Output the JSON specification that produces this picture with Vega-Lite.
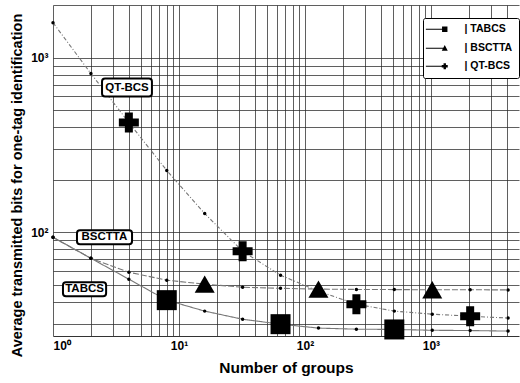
{
  "$schema": "https://vega.github.io/schema/vega-lite/v6.json",
  "width": 466,
  "height": 331,
  "autosize": {"type": "none"},
  "padding": {"left": 53, "top": 5, "right": 1, "bottom": 47},
  "background": "white",
  "config": {
    "view": {"stroke": null},
    "font": "Liberation Sans",
    "axis": {
      "labelFont": "Liberation Sans",
      "titleFont": "Liberation Sans",
      "labelFontWeight": "bold",
      "titleFontWeight": "bold",
      "labelColor": "black",
      "titleColor": "black",
      "gridColor": "#2a2a2a",
      "gridOpacity": 0.75,
      "gridWidth": 1,
      "domainColor": "#333333",
      "ticks": false,
      "labelOverlap": false
    },
    "legend": {"labelFont": "Liberation Sans"}
  },
  "resolve": {"scale": {"shape": "independent"}},
  "datasets": {
    "curves": [
      {"series": "TABCS", "x": 1, "y": 93.6},
      {"series": "TABCS", "x": 2, "y": 71.0},
      {"series": "TABCS", "x": 4, "y": 53.9},
      {"series": "TABCS", "x": 8, "y": 40.9},
      {"series": "TABCS", "x": 16, "y": 35.4},
      {"series": "TABCS", "x": 32, "y": 31.8},
      {"series": "TABCS", "x": 64, "y": 29.8},
      {"series": "TABCS", "x": 128, "y": 28.3},
      {"series": "TABCS", "x": 256, "y": 27.9},
      {"series": "TABCS", "x": 512, "y": 27.8},
      {"series": "TABCS", "x": 1024, "y": 27.5},
      {"series": "TABCS", "x": 2048, "y": 27.4},
      {"series": "TABCS", "x": 4096, "y": 27.2},
      {"series": "BSCTTA", "x": 1, "y": 93.6},
      {"series": "BSCTTA", "x": 2, "y": 71.0},
      {"series": "BSCTTA", "x": 4, "y": 59.1},
      {"series": "BSCTTA", "x": 8, "y": 53.2},
      {"series": "BSCTTA", "x": 16, "y": 50.5},
      {"series": "BSCTTA", "x": 32, "y": 48.5},
      {"series": "BSCTTA", "x": 64, "y": 47.8},
      {"series": "BSCTTA", "x": 128, "y": 47.3},
      {"series": "BSCTTA", "x": 256, "y": 47.1},
      {"series": "BSCTTA", "x": 512, "y": 47.0},
      {"series": "BSCTTA", "x": 1024, "y": 46.9},
      {"series": "BSCTTA", "x": 2048, "y": 46.9},
      {"series": "BSCTTA", "x": 4096, "y": 46.8},
      {"series": "QT-BCS", "x": 1, "y": 1585},
      {"series": "QT-BCS", "x": 2, "y": 810},
      {"series": "QT-BCS", "x": 4, "y": 425},
      {"series": "QT-BCS", "x": 8, "y": 226},
      {"series": "QT-BCS", "x": 16, "y": 128},
      {"series": "QT-BCS", "x": 32, "y": 77.9},
      {"series": "QT-BCS", "x": 64, "y": 56.8},
      {"series": "QT-BCS", "x": 128, "y": 46.0},
      {"series": "QT-BCS", "x": 256, "y": 38.8},
      {"series": "QT-BCS", "x": 512, "y": 35.4},
      {"series": "QT-BCS", "x": 1024, "y": 34.0},
      {"series": "QT-BCS", "x": 2048, "y": 33.1},
      {"series": "QT-BCS", "x": 4096, "y": 32.3}
    ],
    "notes": [
      {"label": "QT-BCS", "x1": 2.45, "x2": 6.1, "y1": 599, "y2": 759, "xc": 3.87, "yc": 674},
      {"label": "BSCTTA", "x1": 1.55, "x2": 4.24, "y1": 85.4, "y2": 102.7, "xc": 2.56, "yc": 93.6},
      {"label": "TABCS", "x1": 1.2, "x2": 2.64, "y1": 43.1, "y2": 51.8, "xc": 1.78, "yc": 47.2}
    ]
  },
  "layer": [
    {
      "data": {"name": "curves"},
      "mark": {"type": "line", "strokeWidth": 1.1, "color": "#777777"},
      "encoding": {
        "x": {
          "field": "x", "type": "quantitative",
          "scale": {"type": "log", "domain": [1, 5000], "nice": false},
          "axis": {
            "title": "Number of groups",
            "titleFontSize": 15.5,
            "titlePadding": 9,
            "labelFontSize": 12,
            "labelPadding": 4,
            "labelFlush": true,
            "values": [1,2,3,4,5,6,7,8,9,10,20,30,40,50,60,70,80,90,100,200,300,400,500,600,700,800,900,1000,2000,3000,4000],
            "labelExpr": "datum.value == 1 ? '10⁰' : datum.value == 10 ? '10¹' : datum.value == 100 ? '10²' : datum.value == 1000 ? '10³' : ''"
          }
        },
        "y": {
          "field": "y", "type": "quantitative",
          "scale": {"type": "log", "domain": [25.5, 2000], "nice": false},
          "axis": {
            "title": "Average transmitted bits for one-tag identification",
            "titleFontSize": 14.5,
            "titlePadding": 6,
            "titleY": 180,
            "labelFontSize": 12,
            "labelPadding": 5,
            "domain": false,
            "values": [30,40,50,60,70,80,90,100,200,300,400,500,600,700,800,900,1000,2000],
            "labelExpr": "datum.value == 100 ? '10²' : datum.value == 1000 ? '10³' : ''"
          }
        },
        "detail": {"field": "series"},
        "strokeDash": {
          "field": "series", "type": "nominal",
          "scale": {"domain": ["QT-BCS", "BSCTTA", "TABCS"], "range": [[4, 2, 1, 2], [6, 2], [1, 0]]},
          "legend": null
        }
      }
    },
    {
      "data": {"name": "curves"},
      "mark": {"type": "point", "filled": true, "size": 12, "color": "black", "opacity": 1},
      "encoding": {
        "x": {"field": "x", "type": "quantitative"},
        "y": {"field": "y", "type": "quantitative"}
      }
    },
    {
      "data": {"name": "curves"},
      "transform": [
        {"filter": "(datum.series == 'TABCS' && (datum.x == 8 || datum.x == 64 || datum.x == 512)) || (datum.series == 'BSCTTA' && (datum.x == 16 || datum.x == 128 || datum.x == 1024)) || (datum.series == 'QT-BCS' && (datum.x == 4 || datum.x == 32 || datum.x == 256 || datum.x == 2048))"}
      ],
      "mark": {"type": "point", "filled": true, "size": 400, "color": "black", "opacity": 1},
      "encoding": {
        "x": {"field": "x", "type": "quantitative"},
        "y": {"field": "y", "type": "quantitative"},
        "shape": {
          "field": "series", "type": "nominal",
          "scale": {"domain": ["QT-BCS", "BSCTTA", "TABCS"], "range": ["cross", "triangle-up", "square"]},
          "legend": null
        }
      }
    },
    {
      "data": {"name": "curves"},
      "mark": {"type": "point", "fill": "black", "stroke": "black", "strokeWidth": 1, "size": 36, "opacity": 0},
      "encoding": {
        "x": {"field": "x", "type": "quantitative"},
        "y": {"field": "y", "type": "quantitative"},
        "shape": {
          "field": "series", "type": "nominal",
          "scale": {
            "domain": ["TABCS", "BSCTTA", "QT-BCS"],
            "range": [
              "M-6.3,-0.17H0V0.17H-6.3ZM-0.9,-0.9H0.9V0.9H-0.9Z",
              "M-6.3,-0.17H0V0.17H-6.3ZM0,-1.1L1,0.8L-1,0.8Z",
              "M-6.3,-0.17H-1V0.17H-6.3ZM-0.4,-1H0.4V-0.4H1V0.4H0.4V1H-0.4V0.4H-1V-0.4H-0.4Z"
            ]
          },
          "legend": {
            "title": null,
            "orient": "none",
            "legendX": 370,
            "legendY": 13,
            "padding": 6,
            "symbolOffset": 10.5,
            "symbolSize": 36,
            "symbolStrokeWidth": 1,
            "symbolStrokeColor": "black",
            "symbolFillColor": "black",
            "labelOffset": 14.5,
            "labelFontSize": 10.5,
            "labelFontWeight": "bold",
            "labelColor": "black",
            "rowPadding": 7,
            "strokeColor": "black",
            "fillColor": "white",
            "cornerRadius": 2,
            "labelExpr": "'| ' + datum.label",
            "encode": {"legend": {"strokeWidth": {"value": 2}}}
          }
        }
      }
    },
    {
      "data": {"name": "notes"},
      "mark": {"type": "rect", "fill": "white", "stroke": "black", "strokeWidth": 2, "cornerRadius": 3},
      "encoding": {
        "x": {"field": "x1", "type": "quantitative"},
        "x2": {"field": "x2"},
        "y": {"field": "y1", "type": "quantitative"},
        "y2": {"field": "y2"}
      }
    },
    {
      "data": {"name": "notes"},
      "mark": {"type": "text", "font": "Liberation Sans", "fontSize": 11.5, "fontWeight": "bold", "color": "black", "align": "center", "baseline": "middle"},
      "encoding": {
        "x": {"field": "xc", "type": "quantitative"},
        "y": {"field": "yc", "type": "quantitative"},
        "text": {"field": "label"}
      }
    }
  ]
}
